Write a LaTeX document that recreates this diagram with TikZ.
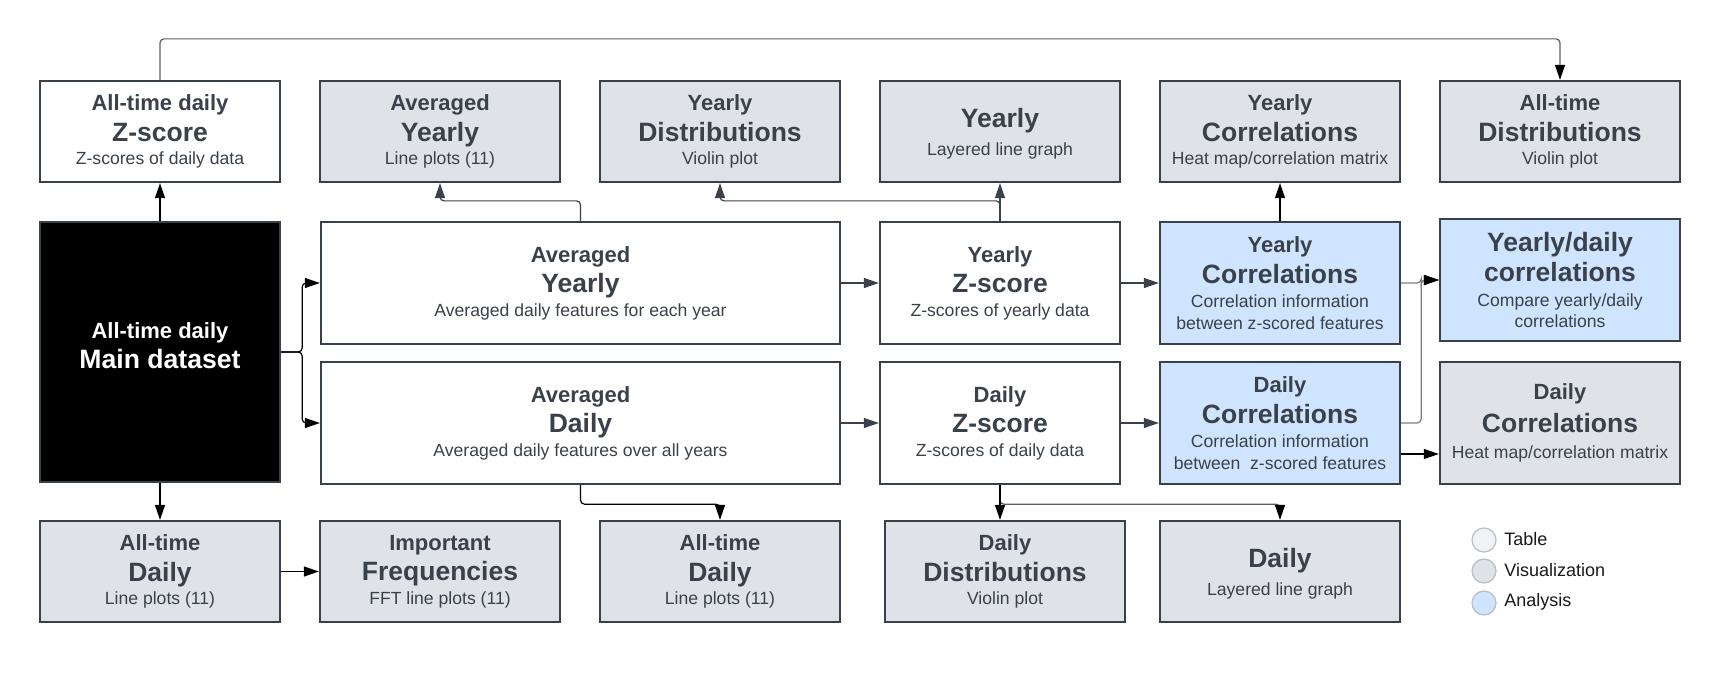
\documentclass[tikz,border=0pt]{standalone}
\usepackage{fontspec}
\setmainfont{Liberation Sans}
\usetikzlibrary{arrows.meta}

\definecolor{ink}{HTML}{3A414A}
\definecolor{vizfill}{HTML}{DFE3E8}
\definecolor{anafill}{HTML}{CFE4FF}
\definecolor{tabfill}{HTML}{F2F3F5}
\definecolor{wire}{HTML}{5E5E5E}
\definecolor{ringgray}{HTML}{B9BEC5}

% line fonts: small bold heading, large bold title, regular caption
\newcommand\tline{\fontsize{11}{0}\selectfont\bfseries}
\newcommand\bline{\fontsize{13.25}{0}\selectfont\bfseries}
\newcommand\sline{\fontsize{8.8}{0}\selectfont}
% centred lines with explicit baseline-to-baseline distances
\newcommand\lgap[1]{\cr\noalign{\vskip#1}}
\newcommand\stack[1]{\vbox{\lineskiplimit=-\maxdimen\baselineskip=0pt\lineskip=0pt\halign{\hfil##\hfil\cr#1\crcr}}}
\newcommand\trio[3]{\stack{\tline #1\lgap{15.25pt}\bline #2\lgap{11.75pt}\sline #3}}
\newcommand\duo[2]{\stack{\rule{0pt}{12pt}\bline #1\lgap{14pt}\sline #2}}
% box from its corners: name, style, x1, y1, x2, y2, text
\newcommand\card[7]{%
  \node[#2, minimum width={(#5-#3)*0.5pt}, minimum height={(#6-#4)*0.5pt}]
    (#1) at ({(#3+#5)/2},{(#4+#6)/2}) {#7};}

\begin{document}
\begin{tikzpicture}[x=0.5pt, y=-0.5pt,
  >={Triangle[length=7.5pt,width=5pt]},
  card/.style={draw=ink, line width=1.15pt, inner sep=0pt, text=ink},
  tablebox/.style={card, fill=white},
  vizbox/.style={card, fill=vizfill},
  anabox/.style={card, fill=anafill},
  srcbox/.style={card, fill=black, text=white},
  link/.style={line width=0.6pt, ->, rounded corners=2pt},
  wirelink/.style={link, draw=wire, -{Triangle[length=7.5pt,width=5pt,color=black]}},
  legdot/.style={circle, draw=ringgray, line width=0.6pt, minimum size=12pt, inner sep=0pt},
  legtext/.style={anchor=west, inner sep=0pt, font=\fontsize{9}{11}\selectfont, text=black!90}]

\fill[white] (0,0) rectangle (1720,681);
\useasboundingbox (0,0) rectangle (1720,681);

% top row of outputs
\card{b1}{tablebox}{40}{81}{280}{182}{\trio{All-time daily}{Z-score}{Z-scores of daily data}}
\card{b2}{vizbox}{320}{81}{560}{182}{\trio{Averaged}{Yearly}{Line plots (11)}}
\card{b3}{vizbox}{600}{81}{840}{182}{\trio{Yearly}{Distributions}{Violin plot}}
\card{b4}{vizbox}{880}{81}{1120}{182}{\duo{Yearly}{Layered line graph}}
\card{b5}{vizbox}{1160}{81}{1400}{182}{\trio{Yearly}{Correlations}{Heat map/correlation matrix}}
\card{b6}{vizbox}{1440}{81}{1680}{182}{\trio{All-time}{Distributions}{Violin plot}}

% main dataset and processing chain (the empty last row lifts the text a little)
\card{main}{srcbox}{40}{222}{280}{482}{\stack{\tline All-time daily\lgap{15pt}\fontsize{13.3}{0}\selectfont\bfseries Main dataset\lgap{6pt}}}
\card{avgy}{tablebox}{321}{222}{840}{344}{\trio{Averaged}{Yearly}{Averaged daily features for each year}}
\card{yz}{tablebox}{880}{222}{1120}{344}{\trio{Yearly}{Z-score}{Z-scores of yearly data}}
\card{yc}{anabox}{1160}{222}{1400}{344}{\stack{\tline Yearly\lgap{15.5pt}\bline Correlations\lgap{12pt}\sline Correlation information\lgap{10.85pt}\sline between z-scored features}}
\card{yd}{anabox}{1440}{219}{1680}{341}{\stack{\bline Yearly/daily\lgap{15pt}\bline correlations\lgap{12.5pt}\sline Compare yearly/daily\lgap{10.5pt}\sline correlations}}
\card{avgd}{tablebox}{321}{362}{840}{484}{\trio{Averaged}{Daily}{Averaged daily features over all years}}
\card{dz}{tablebox}{880}{362}{1120}{484}{\trio{Daily}{Z-score}{Z-scores of daily data}}
\card{dc}{anabox}{1160}{362}{1400}{484}{\stack{\tline Daily\lgap{15.5pt}\bline Correlations\lgap{12pt}\sline Correlation information\lgap{10.85pt}\sline between\ \ z-scored features}}
\card{dcg}{vizbox}{1440}{362}{1680}{484}{\stack{\tline Daily\lgap{16.3pt}\bline Correlations\lgap{13.4pt}\sline Heat map/correlation matrix}}

% bottom row of outputs
\card{ad1}{vizbox}{40}{521}{280}{622}{\trio{All-time}{Daily}{Line plots (11)}}
\card{imp}{vizbox}{320}{521}{560}{622}{\trio{Important}{Frequencies}{FFT line plots (11)}}
\card{ad2}{vizbox}{600}{521}{840}{622}{\trio{All-time}{Daily}{Line plots (11)}}
\card{ddist}{vizbox}{885}{521}{1125}{622}{\trio{Daily}{Distributions}{Violin plot}}
\card{dlay}{vizbox}{1160}{521}{1400}{622}{\duo{Daily}{Layered line graph}}

% legend
\node[legdot, fill=tabfill] (legtab) at (1484,540) {};
\node[legdot, fill=vizfill] (legviz) at (1484,571) {};
\node[legdot, fill=anafill] (legana) at (1484,603) {};
\node[legtext] (legtabtxt) at (1504,539) {Table};
\node[legtext] (legviztxt) at (1504,570) {Visualization};
\node[legtext] (meganatxt) at (1504,602) {Analysis};

% connectors
\draw[wirelink] (b1.north) -- ++(0,-41) -| (b6.north);
\draw[link] (main.north) -- (b1.south);
\draw[link] (main.south) -- (ad1.north);
\draw[link] (main.east) -- ++(21,0) |- (avgy.west);
\draw[link] (main.east) -- ++(21,0) |- (avgd.west);

\draw[link, ink] (avgy.north) -- ++(0,-20) -| (b2.south);
\draw[link, ink] (yz.north) -- ++(0,-20) -| (b3.south);
\draw[link, ink] (yz.north) -- (b4.south);
\draw[link] (yc.north) -- (b5.south);

\draw[link, ink] (avgy.east) -- (yz.west);
\draw[link, ink] (yz.east) -- (yc.west);
\draw[link, ink] (avgd.east) -- (dz.west);
\draw[link, ink] (dz.east) -- (dc.west);

\draw[wirelink, draw=wire!80] (yc.east) -- ++(20,0) |- (yd.west);
\draw[wirelink, draw=wire!80] (dc.east) -- ++(20,0) |- (yd.west);
\draw[link] ([yshift=-15.5pt]dc.east) -- ([yshift=-15.5pt]dcg.west);

\draw[link] (ad1.east) -- (imp.west);
\draw[link] (avgd.south) -- ++(0,19) -| (ad2.north);
\draw[wirelink] (dz.south) -- ++(0,19) -| (dlay.north);
\draw[link] (dz.south) -- (dz.south |- ddist.north);
\end{tikzpicture}
\end{document}
